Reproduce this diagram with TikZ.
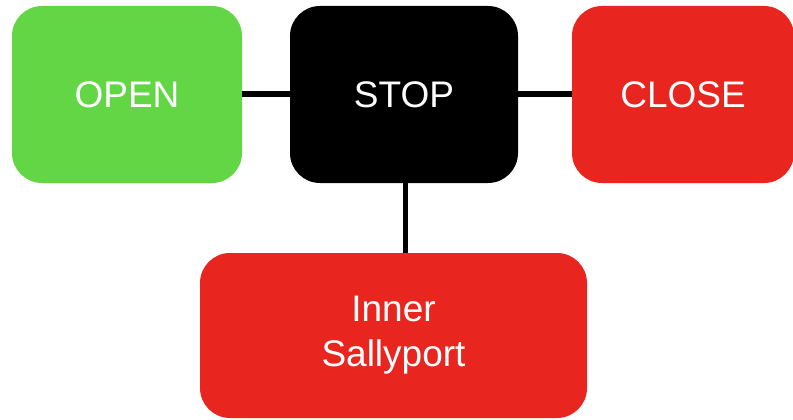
\documentclass[tikz,border=0pt]{standalone}
\usepackage{fontspec}
\setmainfont{Liberation Sans}
\definecolor{boxgreen}{HTML}{62D645}
\definecolor{boxred}{HTML}{E8261F}
\begin{document}
\begin{tikzpicture}[x=1pt,y=-1pt,
  box/.style={rectangle, rounded corners=30pt, inner sep=0pt, text=white,
    font=\fontsize{37}{45}\selectfont, align=center},
  link/.style={line width=6pt, draw=black}]
\useasboundingbox (0,0) rectangle (793,420);
\node[box, fill=boxgreen, minimum width=230pt, minimum height=177pt] (open) at (127,94.5) {OPEN};
\node[box, fill=black, minimum width=228pt, minimum height=177pt] (stop) at (404,94.5) {STOP};
\node[box, fill=boxred, minimum width=222pt, minimum height=177pt] (close) at (683,94.5) {CLOSE};
\node[box, fill=boxred, minimum width=387pt, minimum height=165pt] (inner) at (393.5,335.5) {Inner\\Sallyport};
\begin{scope}[on background layer/.try]
\end{scope}
\draw[link] (open.east) -- (stop.west);
\draw[link] (stop.east) -- (close.west);
\draw[line width=5pt] (stop.south -| 405,0) -- (405,253);
\end{tikzpicture}
\end{document}
